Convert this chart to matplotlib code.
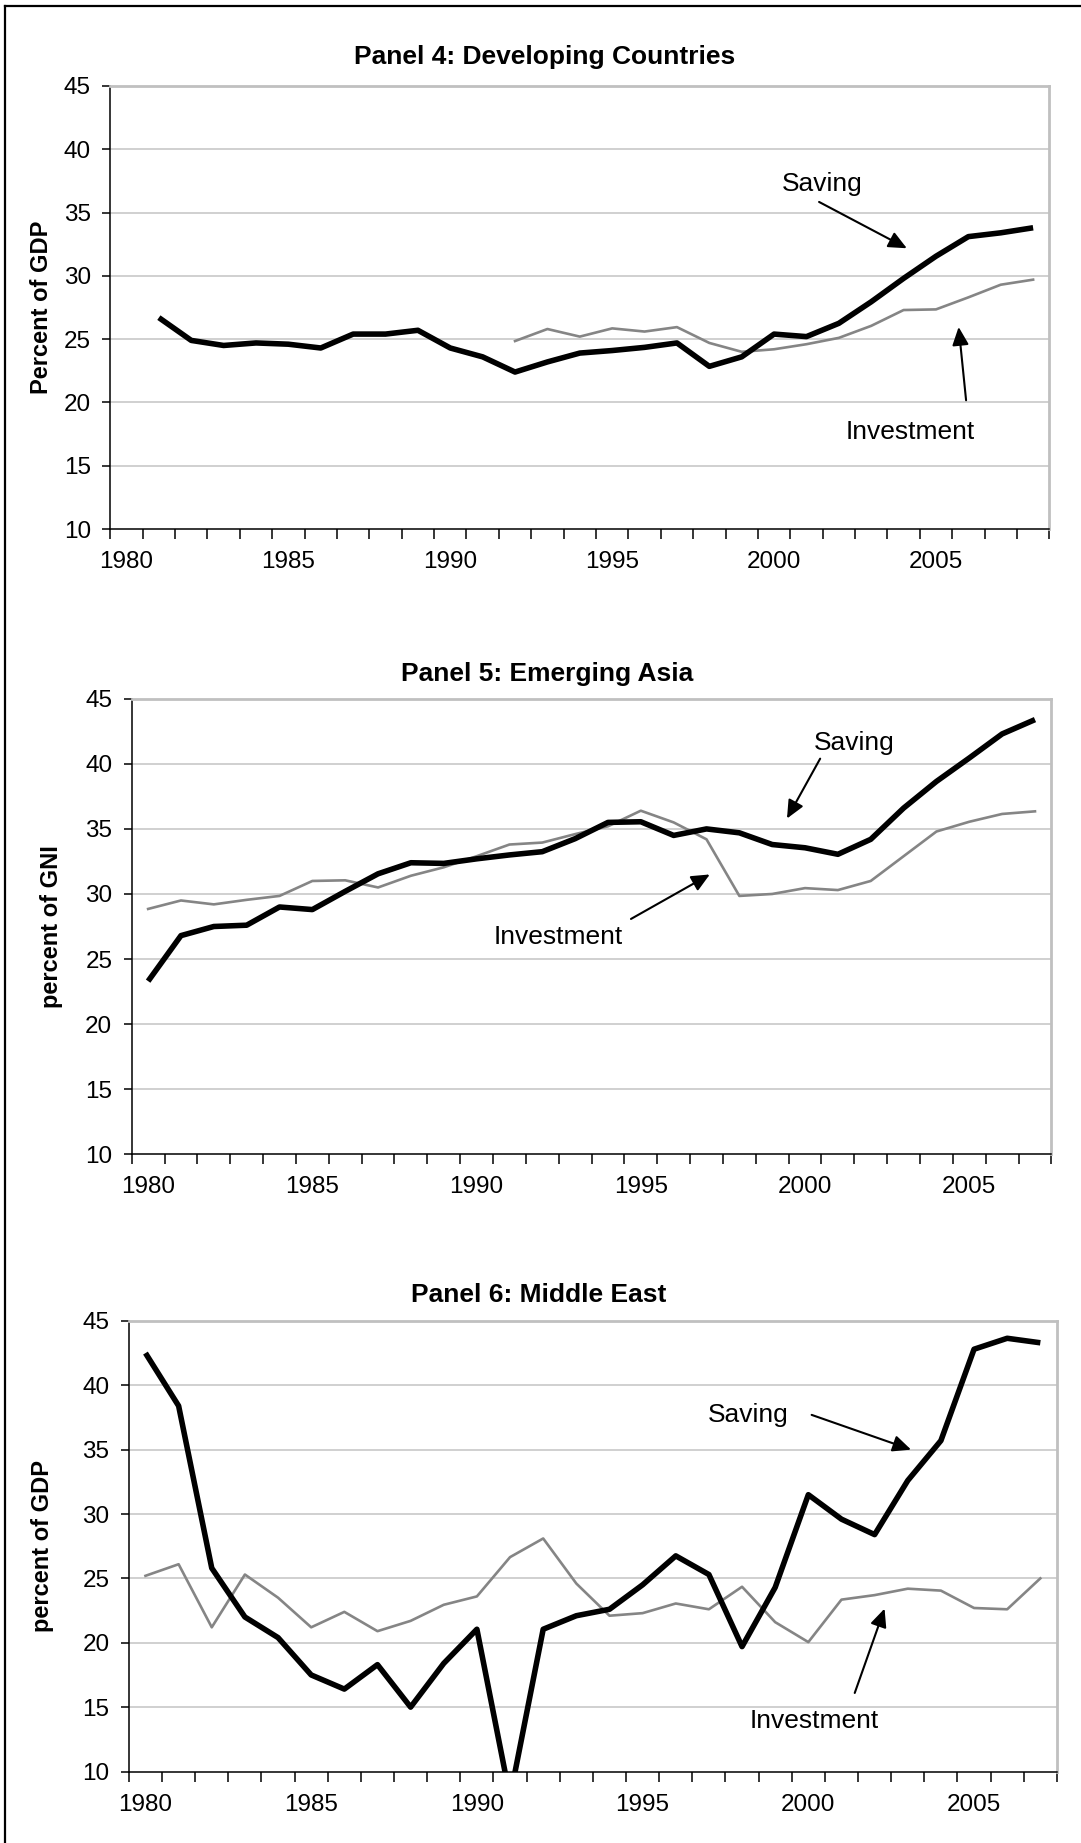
import numpy as np
import matplotlib
matplotlib.use('Agg')
import matplotlib.pyplot as plt
from matplotlib.lines import Line2D
from matplotlib.ticker import FixedLocator, FixedFormatter, NullFormatter

plt.rcParams['font.family'] = ['Liberation Sans', 'DejaVu Sans']

# ---------------- data ----------------
label_years = [1980, 1985, 1990, 1995, 2000, 2005]
y_ticks = [10, 15, 20, 25, 30, 35, 40, 45]

# Panel 4: Developing Countries
p4_title = "Panel 4: Developing Countries"
p4_ylabel = "Percent of GDP"
p4_saving_years = list(range(1981, 2009))
p4_saving = [26.7, 24.9, 24.5, 24.7, 24.6, 24.3, 25.4, 25.4, 25.7, 24.3,
             23.6, 22.4, 23.2, 23.9, 24.1, 24.35, 24.7, 22.85, 23.6, 25.4,
             25.2, 26.25, 27.95, 29.8, 31.55, 33.1, 33.4, 33.8]
p4_invest_years = list(range(1992, 2009))
p4_invest = [24.85, 25.8, 25.2, 25.85, 25.6, 25.95, 24.7, 24.0, 24.2, 24.6,
             25.1, 26.05, 27.3, 27.35, 28.3, 29.3, 29.7]

# Panel 5: Emerging Asia
p5_title = "Panel 5: Emerging Asia"
p5_ylabel = "percent of GNI"
p5_years = list(range(1980, 2008))
p5_saving = [23.3, 26.8, 27.5, 27.6, 29.0, 28.8, 30.2, 31.55, 32.4, 32.35,
             32.7, 33.0, 33.25, 34.25, 35.5, 35.55, 34.5, 35.0, 34.7, 33.8,
             33.55, 33.05, 34.2, 36.6, 38.65, 40.45, 42.3, 43.4]
p5_invest = [28.85, 29.5, 29.2, 29.55, 29.85, 31.0, 31.05, 30.5, 31.4, 32.05,
             32.9, 33.8, 33.95, 34.6, 35.2, 36.4, 35.5, 34.2, 29.85, 30.0,
             30.45, 30.3, 31.0, 32.9, 34.8, 35.55, 36.15, 36.35]

# Panel 6: Middle East
p6_title = "Panel 6: Middle East"
p6_ylabel = "percent of GDP"
p6_years = list(range(1980, 2008))
p6_saving = [42.5, 38.4, 25.8, 22.0, 20.4, 17.5, 16.4, 18.3, 15.0, 18.4,
             21.05, 8.0, 21.05, 22.1, 22.6, 24.5, 26.75, 25.3, 19.7, 24.3,
             31.5, 29.6, 28.4, 32.6, 35.7, 42.8, 43.65, 43.3]
p6_invest = [25.2, 26.1, 21.2, 25.3, 23.5, 21.2, 22.4, 20.9, 21.7, 22.95,
             23.6, 26.65, 28.1, 24.6, 22.1, 22.3, 23.05, 22.6, 24.35, 21.6,
             20.05, 23.35, 23.7, 24.2, 24.05, 22.7, 22.6, 25.0]

# ---------------- figure ----------------
W, H = 1081, 1843
fig = plt.figure(figsize=(W / 100, H / 100), dpi=100)
fig.patch.set_facecolor('white')

def px_rect(left, right, top, bottom):
    return [left / W, 1 - bottom / H, (right - left) / W, (bottom - top) / H]

GRID = '#c8c8c8'
INV_COLOR = '#858585'

def make_panel(rect, first_year, last_year, title, title_xy, ylabel, ylabel_x,
               s_years, s_vals, i_years, i_vals, annots):
    ax = fig.add_axes(px_rect(*rect))
    ax.set_xlim(first_year - 0.5, last_year + 0.5)
    ax.set_ylim(10, 45)
    for y in y_ticks[1:-1]:
        ax.axhline(y, color=GRID, lw=1.2, zorder=0)
    ax.plot(i_years, i_vals, color=INV_COLOR, lw=1.9, solid_joinstyle='round', zorder=2)
    ax.plot(s_years, s_vals, color='black', lw=4.0, solid_joinstyle='round',
            solid_capstyle='butt', zorder=3)
    # spines
    for side in ['top', 'right']:
        ax.spines[side].set_color('#c0c0c0')
        ax.spines[side].set_linewidth(2)
    for side in ['left', 'bottom']:
        ax.spines[side].set_color('black')
        ax.spines[side].set_linewidth(1.1)
    # y ticks
    ax.set_yticks(y_ticks)
    ax.set_yticklabels([str(v) for v in y_ticks])
    ax.tick_params(axis='y', direction='out', length=6, width=1.1, pad=8,
                   labelsize=17.5, colors='black')
    # x ticks: marks at boundaries, labels at year centres
    bounds = np.arange(first_year - 0.5, last_year + 1.0, 1.0)
    ax.xaxis.set_major_locator(FixedLocator(bounds))
    ax.xaxis.set_major_formatter(NullFormatter())
    ax.xaxis.set_minor_locator(FixedLocator(label_years))
    ax.xaxis.set_minor_formatter(FixedFormatter([str(y) for y in label_years]))
    ax.tick_params(axis='x', which='major', direction='out', length=7, width=1.1)
    ax.tick_params(axis='x', which='minor', length=0, pad=16, labelsize=17.5)
    # title and y label
    fig.text(title_xy[0] / W, 1 - title_xy[1] / H, title, ha='center', va='center',
             fontsize=19, fontweight='bold')
    ycen = (rect[2] + rect[3]) / 2
    fig.text(ylabel_x / W, 1 - ycen / H, ylabel, ha='center', va='center',
             rotation=90, fontsize=17, fontweight='bold')
    # annotations
    for txt, txy, start, tip in annots:
        ax.text(txy[0], txy[1], txt, ha='center', va='center', fontsize=19, zorder=5)
        ax.annotate('', xy=tip, xytext=start,
                    arrowprops=dict(arrowstyle='-|>,head_length=0.55,head_width=0.25',
                                    mutation_scale=20, lw=1.5, color='black',
                                    shrinkA=0, shrinkB=0), zorder=5)
    return ax

make_panel((110.3, 1049.3, 86, 529), 1980, 2008, p4_title, (545, 57), p4_ylabel, 42,
           p4_saving_years, p4_saving, p4_invest_years, p4_invest,
           [("Saving", (2001.5, 37.26), (2001.39, 35.84), (2004.1, 32.18)),
            ("Investment", (2004.2, 17.63), (2005.93, 20.17), (2005.7, 25.96))])

make_panel((131.7, 1051.4, 698.8, 1154.2), 1980, 2007, p5_title, (547, 674), p5_ylabel, 52,
           p5_years, p5_saving, p5_years, p5_invest,
           [("Saving", (2001.5, 41.6), (2000.46, 40.4), (1999.45, 35.8)),
            ("Investment", (1992.5, 26.66), (1994.7, 28.08), (1997.1, 31.5))])

make_panel((128.9, 1056.9, 1320.9, 1771.5), 1980, 2007, p6_title, (539, 1295.5), p6_ylabel, 43,
           p6_years, p6_saving, p6_years, p6_invest,
           [("Saving", (1998.2, 37.7), (2000.1, 37.7), (2003.1, 35.0)),
            ("Investment", (2000.17, 13.95), (2001.4, 16.1), (2002.3, 22.65))])

# outer frame (top and left edges visible)
fig.add_artist(Line2D([5 / W, 1.0], [1 - 6 / H, 1 - 6 / H], transform=fig.transFigure,
                      color='black', lw=1.6))
fig.add_artist(Line2D([5 / W, 5 / W], [1 - 6 / H, 0.0], transform=fig.transFigure,
                      color='black', lw=1.6))

fig.savefig('out.png', dpi=100, facecolor='white')
